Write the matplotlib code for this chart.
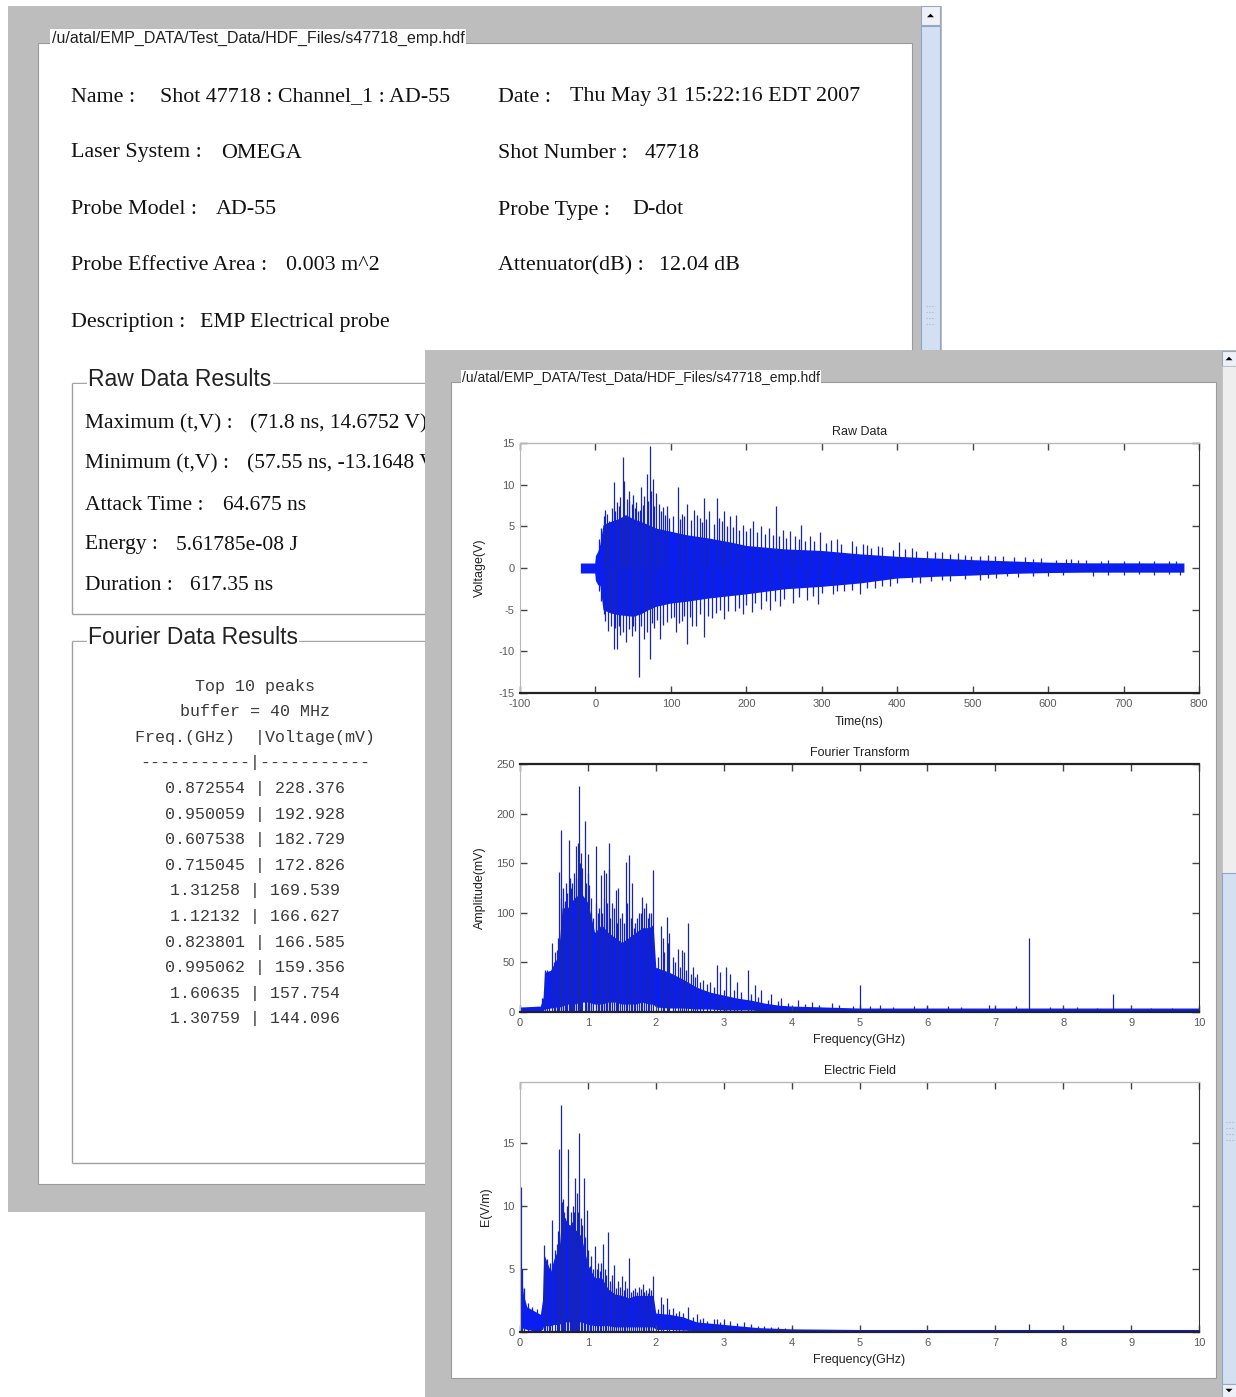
import matplotlib
matplotlib.use('Agg')
import matplotlib.pyplot as plt
from matplotlib.patches import Rectangle, Polygon

plt.rcParams['axes.unicode_minus'] = False

# ---- data ----
info_left_labels = ['Name :', 'Laser System :', 'Probe Model :', 'Probe Effective Area :', 'Description :']
info_left_values = ['Shot 47718 : Channel_1 : AD-55', 'OMEGA', 'AD-55', '0.003 m^2', 'EMP Electrical probe']
info_right_labels = ['Date :', 'Shot Number :', 'Probe Type :', 'Attenuator(dB) :']
info_right_values = ['Thu May 31 15:22:16 EDT 2007', '47718', 'D-dot', '12.04 dB']

raw_labels = ['Maximum (t,V) :', 'Minimum (t,V) :', 'Attack Time :', 'Energy :', 'Duration :']
raw_values = ['(71.8 ns, 14.6752 V)', '(57.55 ns, -13.1648 V)', '64.675 ns', '5.61785e-08 J', '617.35 ns']

peak_freq = [0.872554, 0.950059, 0.607538, 0.715045, 1.31258,
             1.12132, 0.823801, 0.995062, 1.60635, 1.30759]
peak_volt = [228.376, 192.928, 182.729, 172.826, 169.539,
             166.627, 166.585, 159.356, 157.754, 144.096]

file_path = '/u/atal/EMP_DATA/Test_Data/HDF_Files/s47718_emp.hdf'

# raw trace: dense core band, tall spikes, and small edge spikes
raw_env_t = [-20, -1, 0, 3, 6, 10, 20, 30, 40, 50, 60, 70, 80, 100, 120, 150, 180,
             200, 250, 300, 350, 400, 450, 500, 550, 600, 650, 700, 780]
raw_env_hi = [0.6, 0.6, 1.5, 2.0, 2.9, 5.2, 5.6, 5.9, 6.4, 5.9, 5.6, 5.2, 4.8, 4.4, 4.0, 3.6, 3.1,
              2.7, 2.3, 2.1, 1.7, 1.4, 1.2, 1.0, 0.85, 0.7, 0.62, 0.62, 0.6]
raw_env_lo = [-0.6, -0.6, -1.5, -2.0, -2.1, -5.0, -5.4, -5.6, -5.7, -5.8, -5.5, -5.0, -4.6, -4.2, -4.0, -3.6, -3.3,
              -3.1, -2.5, -2.2, -1.8, -1.2, -1.0, -0.85, -0.65, -0.55, -0.5, -0.5, -0.5]
raw_spike_t = [11, 15, 18, 24, 29, 33, 36, 38, 42, 45, 48, 52, 56, 61, 65, 68, 72, 76, 80, 84, 89, 95,
               109, 115, 122, 130, 138, 144, 150, 161, 168, 171, 178, 186, 195, 209, 220, 230, 239,
               248, 258, 265, 273, 285, 297, 320, 340, 360, 380, 403, 420, 440, 460, 480, 498, 520,
               540, 570, 590, 624, 640, 680, 720, 760,
               11, 16, 20, 24, 28, 36, 40, 48, 53, 58, 64, 68, 72, 78, 86, 95, 107, 115, 122, 128,
               133, 144, 155, 171, 185, 195, 207, 220, 232, 244, 262, 280, 295, 315, 330, 351, 370,
               390, 430, 470, 510, 531, 560, 600, 660, 700, 740, 775]
raw_spike_v = [6.3, 6.5, 5.7, 10.3, 7.9, 8.5, 13.3, 10.5, 8.3, 9.2, 7.7, 7.2, 6.9, 9.7, 8.6, 11.3, 14.7, 10.7, 9.0, 7.7, 7.3, 7.5,
               9.7, 6.5, 7.7, 7.0, 6.0, 8.4, 6.8, 8.4, 5.6, 6.9, 6.2, 6.4, 5.2, 5.7, 5.0, 4.8, 7.4,
               4.6, 4.4, 3.9, 5.2, 3.8, 4.3, 3.5, 3.2, 2.8, 2.5, 3.1, 2.4, 2.1, 1.9, 1.8, 1.5, 1.6,
               1.5, 1.3, 1.2, 1.1, 1.0, 0.95, 0.9, 0.9,
               -5.5, -7.5, -7.0, -9.7, -9.7, -7.7, -8.9, -8.1, -7.5, -13.1, -8.5, -7.7, -10.9, -7.2, -8.5, -6.5, -7.7, -6.3, -9.1, -7.0,
               -6.9, -8.3, -6.0, -6.1, -5.2, -5.5, -5.3, -4.9, -5.0, -4.5, -4.2, -3.8, -4.3, -3.1, -2.8, -3.1, -2.4,
               -2.2, -1.8, -1.6, -1.4, -1.2, -1.1, -1.0, -0.9, -0.85, -0.8, -0.8]
raw_edge_t = [5, 8, 13, 22, 26, 31, 44, 50, 54, 59, 63, 70, 74, 78, 87, 92, 98, 103, 112, 118, 126,
              135, 141, 147, 157, 164, 174, 182, 190, 200, 205, 214, 225, 235, 243, 253, 270, 278,
              290, 305, 312, 325, 345, 355, 365, 375, 395, 410, 425, 450, 470, 490, 510, 530, 555,
              580, 610, 630, 650, 670, 700, 740, 770,
              5, 8, 13, 26, 31, 33, 44, 50, 61, 75, 82, 90, 100, 104, 111, 118, 125, 138, 149, 160,
              165, 176, 190, 200, 212, 226, 238, 250, 270, 288, 300, 320, 340, 360, 380, 400, 420,
              445, 460, 490, 520, 545, 580, 620, 680, 720, 760]
raw_edge_v = [3.5, 4.8, 7.0, 7.2, 6.8, 7.5, 8.0, 8.8, 7.9, 7.0, 7.6, 8.0, 9.2, 7.4, 6.8, 6.4, 6.0, 6.3, 5.9, 6.2, 5.8,
              6.4, 5.5, 5.9, 5.3, 6.0, 5.0, 4.9, 4.6, 4.4, 4.8, 4.3, 4.1, 4.0, 3.9, 3.6, 3.5, 3.3,
              3.2, 3.0, 3.4, 2.9, 2.7, 2.9, 2.4, 2.6, 2.2, 2.3, 2.0, 1.9, 1.7, 1.6, 1.5, 1.4, 1.3,
              1.1, 1.0, 1.05, 0.95, 0.9, 0.9, 0.85, 0.9,
              -2.8, -4.0, -6.3, -7.2, -6.9, -8.0, -7.3, -7.0, -7.0, -6.6, -6.2, -6.8, -6.0, -5.9, -6.6, -5.7, -5.9, -5.5, -5.8, -5.4,
              -5.0, -5.2, -4.8, -4.4, -4.2, -4.0, -3.9, -3.7, -3.5, -3.3, -3.0, -2.8, -2.6, -2.4, -2.1, -1.8, -1.7,
              -1.5, -1.4, -1.3, -1.2, -1.0, -0.9, -0.85, -0.8, -0.75, -0.75]

# Fourier transform amplitude (mV)
ft_env_f = [0, 0.3, 0.34, 0.36, 0.45, 0.55, 0.58, 0.62, 0.7, 0.8, 0.9, 1.0, 1.1, 1.2, 1.3, 1.4, 1.5, 1.6,
            1.7, 1.8, 1.9, 1.96, 2.0, 2.2, 2.4, 2.6, 2.8, 3.0, 3.2, 3.4, 3.6, 3.8, 4.0, 4.5, 5.0, 10.0]
ft_env_hi = [5, 6, 15, 40, 42, 55, 70, 105, 105, 115, 120, 110, 80, 88, 80, 75, 70, 75,
             80, 85, 85, 88, 45, 40, 33, 25, 20, 17, 14, 12, 9, 7, 6, 5, 4, 4]
ft_env_lo = [0, 0, 1, 3, 4, 5, 5, 6, 8, 8, 10, 10, 8, 8, 10, 10, 8, 8,
             8, 10, 8, 8, 5, 4, 4, 3, 3, 2, 2, 2, 1, 1, 1, 0.5, 0.5, 0.5]
ft_spike_f = [0.37, 0.47, 0.52, 0.58, 0.6075, 0.63, 0.66, 0.715, 0.75, 0.78, 0.8238, 0.85, 0.8726, 0.9,
              0.9501, 0.9951, 1.02, 1.05, 1.1213, 1.15, 1.19, 1.23, 1.26, 1.3076, 1.3126, 1.35, 1.41,
              1.45, 1.5, 1.56, 1.6064, 1.65, 1.7, 1.75, 1.8, 1.85, 1.9, 1.96, 2.07, 2.1, 2.16, 2.2,
              2.25, 2.33, 2.38, 2.42, 2.48, 2.55, 2.6, 2.7, 2.8, 2.9, 2.95, 3.04, 3.1, 3.2, 3.36,
              3.46, 3.55, 3.7, 3.85, 4.1, 4.3, 4.6, 5.0, 5.3, 5.8, 6.3, 6.9, 7.5, 8.2, 8.74, 9.3]
ft_spike_a = [42, 70, 60, 141, 183, 110, 112, 173, 125, 95, 167, 170, 228, 160,
              193, 159, 128, 115, 167, 100, 138, 143, 140, 144, 170, 110, 123,
              125, 100, 151, 158, 130, 90, 100, 116, 110, 100, 143, 87, 75, 96, 80,
              55, 64, 62, 60, 90, 45, 38, 32, 30, 47, 40, 45, 38, 30, 42,
              27, 22, 18, 14, 12, 10, 9, 27.5, 7, 6, 6, 7, 74.5, 5, 18.5, 4]
ft_edge_f = [0.33, 0.4, 0.43, 0.5, 0.54, 0.56, 0.61, 0.64, 0.68, 0.69, 0.73, 0.77, 0.8, 0.83, 0.88,
             0.92, 0.97, 1.0, 1.04, 1.08, 1.12, 1.17, 1.21, 1.24, 1.28, 1.33, 1.38, 1.43, 1.47, 1.53,
             1.58, 1.63, 1.68, 1.72, 1.78, 1.83, 1.88, 1.93, 2.03, 2.12, 2.18, 2.28, 2.35, 2.45, 2.52,
             2.58, 2.65, 2.75, 2.85, 3.0, 3.15, 3.25, 3.4, 3.5, 3.65, 3.8, 3.95, 4.2, 4.4, 4.7, 4.9,
             5.15, 5.5, 6.0, 6.5, 7.0, 7.3, 7.8, 8.0, 8.5, 9.0, 9.6]
ft_edge_a = [14, 42, 38, 50, 62, 75, 115, 125, 130, 120, 135, 130, 140, 135, 150,
             145, 130, 140, 100, 95, 110, 105, 100, 115, 110, 95, 105, 90, 95, 90,
             110, 95, 85, 95, 100, 105, 95, 100, 55, 60, 70, 50, 45, 42, 38,
             35, 30, 28, 25, 22, 22, 20, 18, 15, 12, 11, 9, 8, 7, 7, 6,
             6, 5, 6, 5, 5, 6, 5, 4, 4, 4, 4]

# electric field (V/m)
ef_env_f = [0, 0.02, 0.05, 0.1, 0.2, 0.3, 0.33, 0.35, 0.45, 0.5, 0.58, 0.62, 0.7, 0.8, 0.9, 1.0, 1.1,
            1.2, 1.3, 1.4, 1.5, 1.6, 1.7, 1.8, 1.96, 2.0, 2.2, 2.4, 2.6, 3.0, 3.5, 4.0, 5.0, 10.0]
ef_env_hi = [4.5, 4.5, 3.0, 2.0, 1.7, 1.4, 2.5, 6.2, 4.8, 5.8, 6.8, 9.5, 8.6, 8.2, 7.6, 5.3, 4.3,
             4.3, 3.4, 3.0, 2.9, 2.7, 2.9, 2.9, 2.9, 1.5, 1.4, 1.2, 0.8, 0.6, 0.35, 0.25, 0.2, 0.2]
ef_env_lo = [0.3, 0.3, 0.3, 0.2, 0.1, 0.1, 0.2, 0.5, 0.5, 0.6, 0.6, 0.8, 0.8, 0.8, 0.8, 0.6, 0.5,
             0.5, 0.5, 0.4, 0.4, 0.4, 0.4, 0.4, 0.4, 0.2, 0.2, 0.15, 0.1, 0.05, 0.02, 0, 0, 0]
ef_spike_f = [0.015, 0.35, 0.4, 0.47, 0.55, 0.58, 0.6, 0.64, 0.65, 0.71, 0.75, 0.78, 0.81, 0.84, 0.87,
              0.9, 0.94, 0.98, 1.05, 1.11, 1.15, 1.22, 1.25, 1.29, 1.35, 1.38, 1.45, 1.5, 1.55, 1.61,
              1.7, 1.75, 1.81, 1.85, 1.9, 1.96, 2.07, 2.16, 2.25, 2.34, 2.48, 2.6, 2.7, 2.85, 2.9,
              3.0, 3.1, 3.3, 3.5, 3.8, 4.0, 7.5]
ef_spike_e = [11.5, 6.9, 5.8, 8.9, 7.0, 14.5, 18.0, 10.5, 9.5, 14.5, 9.5, 10.0, 12.2, 11.0, 15.8,
              9.0, 12.2, 9.7, 6.0, 6.8, 5.5, 7.0, 5.0, 7.9, 4.5, 5.3, 4.0, 4.4, 4.0, 5.9,
              3.5, 3.6, 3.8, 3.3, 3.5, 4.4, 2.8, 2.7, 1.9, 1.7, 2.0, 1.4, 1.1, 1.0, 1.0,
              1.0, 0.9, 0.8, 0.5, 0.4, 0.35, 0.6]
ef_edge_f = [0.03, 0.06, 0.12, 0.17, 0.25, 0.37, 0.42, 0.44, 0.52, 0.56, 0.62, 0.67, 0.69, 0.73, 0.76,
             0.8, 0.83, 0.86, 0.92, 0.96, 1.0, 1.03, 1.08, 1.13, 1.18, 1.2, 1.27, 1.32, 1.36, 1.42,
             1.48, 1.53, 1.58, 1.63, 1.67, 1.73, 1.78, 1.83, 1.88, 1.93, 2.03, 2.1, 2.2, 2.3, 2.4,
             2.55, 2.65, 2.75, 2.95, 3.2, 3.4, 3.6, 3.7, 3.9]
ef_edge_e = [5.0, 3.5, 2.3, 2.0, 1.8, 5.5, 4.8, 5.5, 6.5, 8.0, 10.3, 9.0, 10.0, 8.5, 8.7,
             9.5, 8.0, 9.5, 8.5, 7.5, 6.5, 5.2, 5.0, 5.0, 4.8, 5.5, 4.5, 4.0, 3.8, 3.5,
             3.6, 3.3, 3.5, 3.2, 3.3, 3.2, 3.4, 3.2, 3.1, 3.3, 1.8, 2.2, 1.8, 1.5, 1.5,
             1.2, 1.0, 0.9, 0.8, 0.7, 0.6, 0.45, 0.4, 0.35]

# ---- figure / screen layout in pixels ----
W, H = 1236, 1397
GRAY = '#bdbdbd'
BLUE = '#0a1ef2'
NAVY = '#1a26a8'
SERIF = 'Liberation Serif'
SANS = 'Liberation Sans'

fig = plt.figure(figsize=(W / 100, H / 100), dpi=100, facecolor='white')
bg = fig.add_axes([0, 0, 1, 1])
bg.set_xlim(0, W)
bg.set_ylim(H, 0)
bg.axis('off')


def rect(x0, y0, x1, y1, fc, ec='none', lw=0, z=1):
    bg.add_patch(Rectangle((x0, y0), x1 - x0, y1 - y0, facecolor=fc,
                           edgecolor=ec, linewidth=lw, zorder=z))


def line(xs, ys, color='#a0a0a0', lw=1.0, z=2):
    bg.plot(xs, ys, color=color, lw=lw, zorder=z, solid_capstyle='butt')


def scroll_arrow(cx, cy, up, z):
    s = 3.5 if up else -3.5
    bg.add_patch(Polygon([(cx - 3.5, cy + s / 2), (cx + 3.5, cy + s / 2), (cx, cy - s / 2)],
                         closed=True, facecolor='black', edgecolor='none', zorder=z))


# back window
rect(8, 6, 942, 1212, GRAY, z=1)
rect(38, 43, 912, 1184, 'white', ec='#9a9a9a', lw=0.8, z=1.5)
rect(921, 6, 940, 25, '#eef2f8', ec='#9aa8bc', lw=0.8, z=1.6)
scroll_arrow(930.5, 15.5, True, 1.7)
rect(921, 26, 940, 360, '#d3e0f2', ec='#8ea6c9', lw=0.8, z=1.6)
for gy in (306, 312, 318, 324):
    bg.plot([926, 935], [gy, gy], color='#9fb3d2', lw=0.8, ls=':', zorder=1.7)
bg.text(52, 38, file_path, fontsize=11.5, family=SANS, va='center', ha='left', color='#222',
        bbox=dict(facecolor='white', edgecolor='none', pad=1.2), zorder=2)

rows_y = [97, 153, 210, 266, 323]
left_vx = [160, 221, 216, 286, 200]
for y, lab, val, vx in zip(rows_y, info_left_labels, info_left_values, left_vx):
    bg.text(71, y, lab, fontsize=15.8, family=SERIF, va='center', color='#111', zorder=2)
    bg.text(vx, y, val, fontsize=15.8, family=SERIF, va='center', color='#111', zorder=2)
right_vx = [570, 645, 632, 659]
for y, lab, val, vx in zip(rows_y, info_right_labels, info_right_values, right_vx):
    bg.text(498, y, lab, fontsize=15.8, family=SERIF, va='center', color='#111', zorder=2)
    bg.text(vx, y, val, fontsize=15.8, family=SERIF, va='center', color='#111', zorder=2)

# group boxes
for top, bottom, title in ((383, 614, 'Raw Data Results'), (641, 1163, 'Fourier Data Results')):
    line([72, 912], [top, top])
    line([72, 72], [top, bottom])
    line([72, 912], [bottom, bottom])
    line([73, 912], [top + 1.2, top + 1.2], color='white', lw=0.8)
    bg.text(88, top - 3, title, fontsize=16.5, family=SANS, va='center', color='#222',
            bbox=dict(facecolor='white', edgecolor='none', pad=1.0), zorder=3)

raw_y = [424, 464, 505, 545, 585]
raw_vx = [250, 247, 223, 176, 190]
for y, lab, val, vx in zip(raw_y, raw_labels, raw_values, raw_vx):
    bg.text(85, y, lab, fontsize=15.5, family=SERIF, va='center', color='#111', zorder=2)
    bg.text(vx, y, val, fontsize=15.5, family=SERIF, va='center', color='#111', zorder=2)

table_lines = ['Top 10 peaks', 'buffer = 40 MHz', 'Freq.(GHz)  |Voltage(mV)',
               '-----------|-----------']
table_lines += ['{:g} | {:g}'.format(f, v) for f, v in zip(peak_freq, peak_volt)]
for i, txt in enumerate(table_lines):
    bg.text(255, 686 + i * 25.6, txt, fontsize=12, family='Liberation Mono', ha='center',
            va='center', color='#3a3a3a', zorder=2)

# front window
rect(425, 350, 1236, 1397, GRAY, z=10)
rect(451, 382, 1216, 1378, 'white', ec='#9a9a9a', lw=0.8, z=10.5)
rect(1222, 351, 1237, 366, '#eef2f8', ec='#9aa8bc', lw=0.8, z=10.6)
scroll_arrow(1229, 358.5, True, 10.7)
rect(1222, 366, 1237, 873, '#eeeeee', ec='#c0c0c0', lw=0.6, z=10.6)
rect(1222, 873, 1237, 1384, '#d3e0f2', ec='#8ea6c9', lw=0.8, z=10.6)
for gy in (1122, 1128, 1134, 1140):
    bg.plot([1226, 1235], [gy, gy], color='#9fb3d2', lw=0.8, ls=':', zorder=10.7)
rect(1222, 1384, 1237, 1397, '#eef2f8', ec='#9aa8bc', lw=0.8, z=10.6)
scroll_arrow(1229, 1390.5, False, 10.7)
bg.text(462, 378, file_path, fontsize=10, family=SANS, va='center', ha='left', color='#222',
        bbox=dict(facecolor='white', edgecolor='none', pad=1.0), zorder=11)


def px_axes(left, top, right, bottom):
    return fig.add_axes([left / W, 1 - bottom / H, (right - left) / W, (bottom - top) / H])


def style(ax, title, xlabel, ylabel, ylab_x, dark_top=False):
    ax.tick_params(direction='in', top=True, right=True, length=5, width=1,
                   labelsize=8, labelcolor='#5a5a5a', color='#444', pad=4)
    for lab in ax.get_xticklabels() + ax.get_yticklabels():
        lab.set_family(SANS)
    ax.spines['left'].set_color('#b8b8b8')
    ax.spines['top'].set_color('#222' if dark_top else '#b8b8b8')
    ax.spines['top'].set_linewidth(1.6 if dark_top else 1.0)
    ax.spines['bottom'].set_color('#222')
    ax.spines['bottom'].set_linewidth(1.6)
    ax.spines['right'].set_color('#333')
    ax.set_title(title, fontsize=9, family=SANS, color='#222', pad=6)
    ax.set_xlabel(xlabel, fontsize=9, family=SANS, color='#222')
    ax.set_ylabel(ylabel, fontsize=9, family=SANS, color='#222')
    ax.xaxis.set_label_coords(0.5, -0.09)
    ax.yaxis.set_label_coords(ylab_x, 0.5)


# Raw Data
ax1 = px_axes(520, 443, 1199, 693)
ax1.fill_between(raw_env_t, raw_env_lo, raw_env_hi, color=BLUE, lw=0)
ax1.vlines(raw_edge_t, 0, raw_edge_v, color=BLUE, lw=0.9)
ax1.vlines(raw_spike_t, 0, raw_spike_v, color=NAVY, lw=0.9)
ax1.set_xlim(-100, 800)
ax1.set_ylim(-15, 15)
ax1.set_xticks(range(-100, 801, 100))
ax1.set_yticks(range(-15, 16, 5))
style(ax1, 'Raw Data', 'Time(ns)', 'Voltage(V)', -0.05)

# Fourier Transform
ax2 = px_axes(520, 764, 1199, 1012)
ax2.fill_between(ft_env_f, ft_env_lo, ft_env_hi, color=BLUE, lw=0)
ax2.vlines(ft_edge_f, 0, ft_edge_a, color=BLUE, lw=0.9)
ax2.vlines(ft_spike_f, 0, ft_spike_a, color=NAVY, lw=0.9)
ax2.set_xlim(0, 10)
ax2.set_ylim(0, 250)
ax2.set_xticks(range(0, 11))
ax2.set_yticks(range(0, 251, 50))
style(ax2, 'Fourier Transform', 'Frequency(GHz)', 'Amplitude(mV)', -0.05, dark_top=True)

# Electric Field
ax3 = px_axes(520, 1082, 1199, 1332)
ax3.fill_between(ef_env_f, ef_env_lo, ef_env_hi, color=BLUE, lw=0)
ax3.vlines(ef_edge_f, 0, ef_edge_e, color=BLUE, lw=0.9)
ax3.vlines(ef_spike_f, 0, ef_spike_e, color=NAVY, lw=0.9)
ax3.set_xlim(0, 10)
ax3.set_ylim(0, 19.8)
ax3.set_xticks(range(0, 11))
ax3.set_yticks([0, 5, 10, 15])
style(ax3, 'Electric Field', 'Frequency(GHz)', 'E(V/m)', -0.041)

fig.savefig('out.png', dpi=100)
